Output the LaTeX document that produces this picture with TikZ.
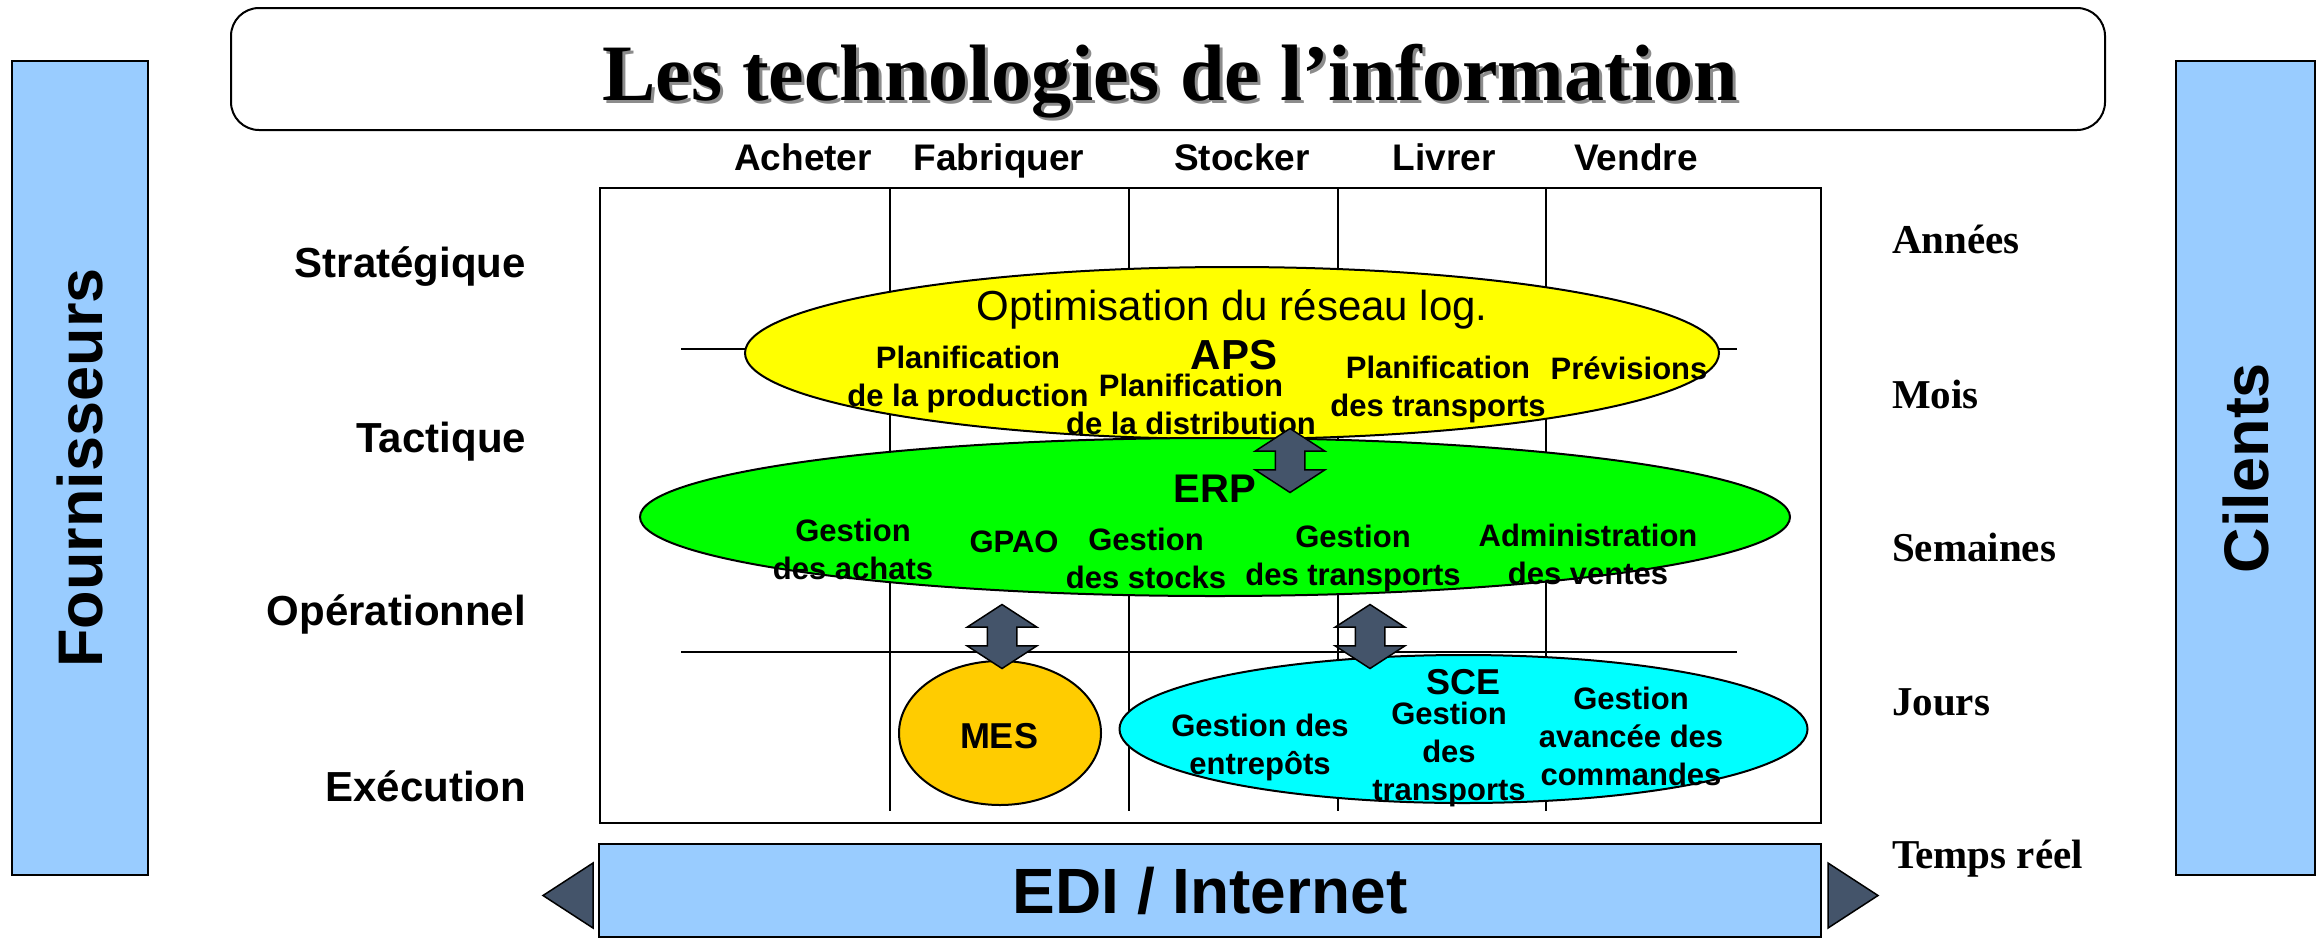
\documentclass[tikz,border=0pt]{standalone}
\usepackage{fontspec}
\setmainfont{Liberation Sans}
\newfontfamily\timesbold{Liberation Serif}[BoldFont={* Bold}]
\usetikzlibrary{shapes.geometric,shapes.arrows}

\definecolor{panelblue}{HTML}{99CCFF}
\definecolor{slate}{HTML}{44546A}
\definecolor{apsyellow}{HTML}{FFFF00}
\definecolor{erpgreen}{HTML}{00FF00}
\definecolor{scecyan}{HTML}{00FFFF}
\definecolor{mesorange}{HTML}{FFCC00}

\begin{document}
\begin{tikzpicture}[x=1pt,y=-1pt,
  every node/.style={inner sep=0pt, outer sep=0pt, align=center},
  panel/.style={draw=black, line width=2pt, fill=panelblue},
  oval/.style={ellipse, draw=black, line width=2pt},
  gridline/.style={line width=1.5pt, black},
  colhead/.style={font=\fontsize{37}{44}\selectfont\bfseries, anchor=base},
  rowhead/.style={font=\fontsize{42}{50}\selectfont\bfseries, anchor=east},
  timehead/.style={font=\timesbold\fontsize{41}{48}\selectfont\bfseries, anchor=mid west},
  item/.style={font=\fontsize{31}{38}\selectfont\bfseries},
  sysname/.style={font=\fontsize{42}{50}\selectfont\bfseries},
  bigside/.style={font=\fontsize{63}{70}\selectfont\bfseries, rotate=90},
  dblarrow/.style={double arrow, draw=black, line width=1.5pt, fill=slate,
    rotate=90, minimum height=64, inner sep=14pt,
    double arrow head extend=20pt, double arrow tip angle=114},
  edgetip/.style={draw=black, line width=1.5pt, fill=slate}
]
\useasboundingbox (0,0) rectangle (2318,938);

% side panels
\node[panel, minimum width=136, minimum height=814] (four) at (80,468) {};
\node[bigside] (fourtxt) at (four.center) {Fournisseurs};
\node[panel, minimum width=139, minimum height=814] (cli) at (2245.5,468) {};
\node[bigside] (clitxt) at (cli.center) {Cilents};

% title banner
\node[draw=black, line width=2pt, rounded corners=28, minimum width=1874, minimum height=122] (title) at (1168,69) {};
\node[anchor=base, text=black!45, font=\timesbold\fontsize{80}{90}\selectfont\bfseries] (titleshadow) at (1173,103) {Les technologies de l’information};
\node[anchor=base, font=\timesbold\fontsize{80}{90}\selectfont\bfseries] (titletxt) at (1170,100) {Les technologies de l’information};

% matrix frame and grid lines
\node[draw=black, line width=2pt, minimum width=1221, minimum height=635] (grid) at (1210.5,505.5) {};
\foreach \gx in {890,1129,1338,1546}
  \draw[gridline] (\gx,188) -- (\gx,811);
\draw[gridline] (681,349) -- (1737,349);
\draw[gridline] (681,652) -- (1737,652);

% column headers
\node[colhead] (h1) at (803,170) {Acheter};
\node[colhead] (h2) at (999,170) {Fabriquer};
\node[colhead] (h3) at (1242,170) {Stocker};
\node[colhead] (h4) at (1444,170) {Livrer};
\node[colhead] (h5) at (1636,170) {Vendre};

% decision levels
\node[rowhead] (r1) at (526,267) {Stratégique};
\node[rowhead] (r2) at (526,442) {Tactique};
\node[rowhead] (r3) at (526,614) {Opérationnel};
\node[rowhead] (r4) at (526,786) {Exécution};

% time horizons
\node[timehead] (t1) at (1892,251) {Années};
\node[timehead] (t2) at (1892,406) {Mois};
\node[timehead] (t3) at (1892,559) {Semaines};
\node[timehead] (t4) at (1892,713) {Jours};
\node[timehead] (t5) at (1892,866) {Temps réel};

% systems
\node[oval, fill=apsyellow, minimum width=974, minimum height=172] (aps) at (1232,353) {};
\node[oval, fill=erpgreen, minimum width=1150, minimum height=158] (erp) at (1215,517) {};
\node[oval, fill=mesorange, minimum width=202, minimum height=144] (mes) at (1000,733) {};
\node[oval, fill=scecyan, minimum width=688, minimum height=148] (sce) at (1463.5,729) {};

% APS contents
\node[font=\fontsize{42}{50}\selectfont] (opt) at (1232,309) {Optimisation du réseau log.};
\node[sysname] (apsname) at (1234,355) {APS};
\node[item] (pprod) at (968,379) {Planification\\de la production};
\node[item] (pdist) at (1191,404) {Planification\\de la distribution};
\node[item] (ptrans) at (1438,389) {Planification\\des transports};
\node[item] (prev) at (1629,368) {Prévisions};

% ERP contents
\node[sysname, font=\fontsize{40}{48}\selectfont\bfseries] (erpname) at (1215,489) {ERP};
\node[item] (gach) at (853,549) {Gestion\\des achats};
\node[item] (gpao) at (1014,542) {GPAO};
\node[item] (gsto) at (1146,558) {Gestion\\des stocks};
\node[item] (gtra) at (1353,558) {Gestion\\des transports};
\node[item] (adv) at (1588,554) {Administration\\des ventes};

% MES and SCE contents
\node[font=\fontsize{36}{44}\selectfont\bfseries] (mesname) at (999,736) {MES};
\node[font=\fontsize{36}{44}\selectfont\bfseries] (scename) at (1463,682) {SCE};
\node[item] (gent) at (1260,747) {Gestion des\\entrepôts};
\node[item] (gtr2) at (1449,754) {Gestion\\des\\transports};
\node[item] (gcmd) at (1631,736) {Gestion\\avancée des\\commandes};

% exchanges between systems
\node[dblarrow] (aps-erp) at (1290,460.5) {};
\node[dblarrow] (erp-mes) at (1002,636.5) {};
\node[dblarrow] (erp-sce) at (1370,636.5) {};

% EDI / Internet band
\node[panel, minimum width=1222, minimum height=93] (edi) at (1210,890.5) {};
\node[font=\fontsize{64}{72}\selectfont\bfseries] (editxt) at (edi.center) {EDI / Internet};
\draw[edgetip] (593,863) -- (593,928) -- (543,895.5) -- cycle;
\draw[edgetip] (1828,863) -- (1828,928) -- (1878,895.5) -- cycle;
\end{tikzpicture}
\end{document}
